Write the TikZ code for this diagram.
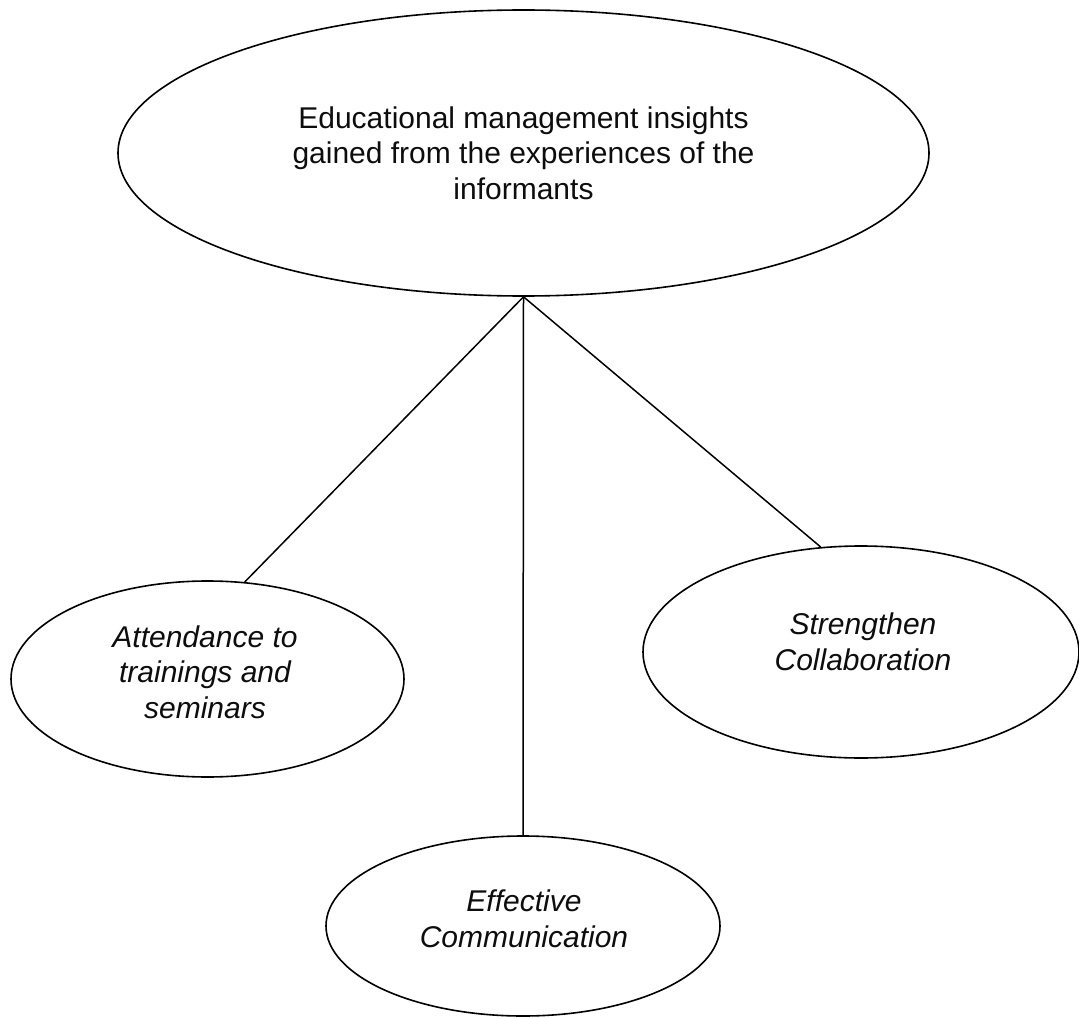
\documentclass[tikz,border=0pt]{standalone}
\usepackage{fontspec}
\setmainfont{Liberation Sans}
\usetikzlibrary{shapes.geometric}
\begin{document}
\begin{tikzpicture}[x=1pt,y=-1pt,
  oval/.style={draw=black,line width=1.6pt,ellipse,inner sep=0pt},
  lbl/.style={align=center,text=black!95,font=\fontsize{30}{35.5}\selectfont},
  ilbl/.style={lbl,font=\fontsize{30}{35.5}\selectfont\itshape},
  conn/.style={draw=black,line width=1.5pt}]
\useasboundingbox (0,0) rectangle (1079,1019);
\node[oval,minimum width=811pt,minimum height=286pt] (top) at (523.5,153) {};
\node[oval,minimum width=393pt,minimum height=196pt] (left) at (207.5,679) {};
\node[oval,minimum width=436pt,minimum height=212pt] (right) at (861,652) {};
\node[oval,minimum width=394pt,minimum height=180pt] (bottom) at (523,926) {};
\node[lbl] (ttop) at (523.5,153) {Educational management insights\\gained from the experiences of the\\informants};
\node[ilbl] (tleft) at (205,672) {Attendance to\\trainings and\\seminars};
\node[ilbl] (tright) at (863,642) {Strengthen\\Collaboration};
\node[ilbl] (tbottom) at (524,919) {Effective\\Communication};
\draw[conn] (top.south) -- (left.69);
\draw[conn] (top.south) -- (bottom.north);
\draw[conn] (top.south) -- (right.111);
\end{tikzpicture}
\end{document}
